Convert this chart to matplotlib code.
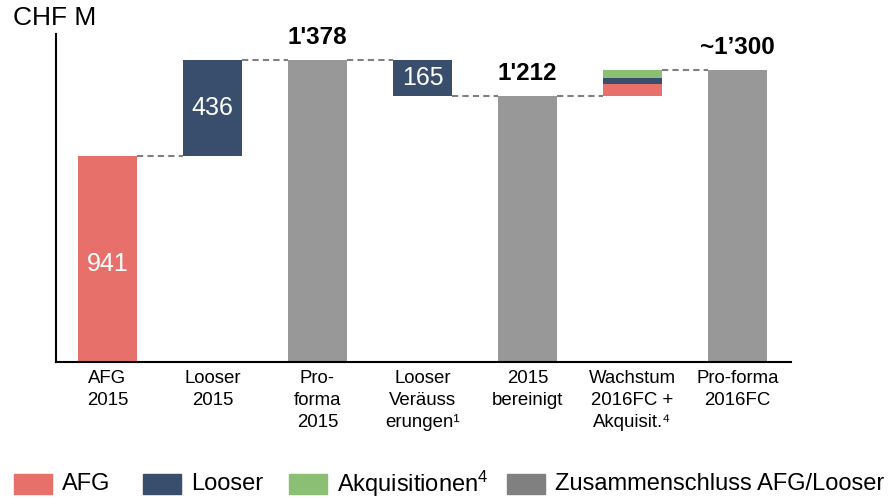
import matplotlib.pyplot as plt
from matplotlib.patches import Rectangle

plt.rcParams['font.family'] = ['Liberation Sans', 'DejaVu Sans']
plt.rcParams['mathtext.fontset'] = 'custom'
plt.rcParams['mathtext.rm'] = 'Liberation Sans'
plt.rcParams['mathtext.it'] = 'Liberation Sans'

categories = ["AFG\n2015", "Looser\n2015", "Pro-\nforma\n2015", "Looser\nVeräuss\nerungen¹",
              "2015\nbereinigt", "Wachstum\n2016FC +\nAkquisit.⁴", "Pro-forma\n2016FC"]
afg_2015 = 941
looser_2015 = 436
proforma_2015 = 1378
looser_veraeusserungen = 165
bereinigt_2015 = 1212
wachstum_afg = 55
wachstum_looser = 27
wachstum_akquisitionen = 36
proforma_2016 = 1330

labels_top = ["1'378", "1'212", "~1’300"]
legend_labels = ["AFG", "Looser", "Akquisitionen$^4$", "Zusammenschluss AFG/Looser"]

RED = '#E8706B'
NAVY = '#394E6D'
GREEN = '#8BBF73'
GRAY = '#989898'
GRAY_LEG = '#808080'

W, H = 894, 498
fig = plt.figure(figsize=(W / 100, H / 100), dpi=100)
ax = fig.add_axes([56 / W, 1 - 362 / H, (791 - 56) / W, (362 - 34) / H])

x = list(range(len(categories)))
w = 0.56

ax.bar(x[0], afg_2015, w, color=RED)
ax.bar(x[1], looser_2015, w, bottom=afg_2015, color=NAVY)
ax.bar(x[2], proforma_2015, w, color=GRAY)
ax.bar(x[3], looser_veraeusserungen, w, bottom=proforma_2015 - looser_veraeusserungen, color=NAVY)
ax.bar(x[4], bereinigt_2015, w, color=GRAY)
ax.bar(x[5], wachstum_afg, w, bottom=bereinigt_2015, color=RED)
ax.bar(x[5], wachstum_looser, w, bottom=bereinigt_2015 + wachstum_afg, color=NAVY)
ax.bar(x[5], wachstum_akquisitionen, w, bottom=bereinigt_2015 + wachstum_afg + wachstum_looser, color=GREEN)
ax.bar(x[6], proforma_2016, w, color=GRAY)

# Verbindungslinien
levels = [afg_2015, proforma_2015, proforma_2015, bereinigt_2015, bereinigt_2015, proforma_2016]
for i, lv in enumerate(levels):
    ax.plot([x[i] + w / 2, x[i + 1] - w / 2], [lv, lv], color='#808080', lw=1.5,
            dashes=(3, 2), solid_capstyle='butt')

# Werte in den Balken
ax.text(x[0], afg_2015 / 2 - 25, str(afg_2015), color='white', fontsize=18, ha='center', va='center')
ax.text(x[1], afg_2015 + looser_2015 / 2, str(looser_2015), color='white', fontsize=18, ha='center', va='center')
ax.text(x[3], proforma_2015 - looser_veraeusserungen / 2, str(looser_veraeusserungen), color='white',
        fontsize=18, ha='center', va='center')

# Summen oben
for xi, val, lab in zip([x[2], x[4], x[6]], [proforma_2015, bereinigt_2015, proforma_2016], labels_top):
    ax.annotate(lab, (xi, val), xytext=(0, 8), textcoords='offset points', ha='center', va='bottom',
                fontsize=17.5, fontweight='bold')

ax.set_xlim(-0.49, 6.51)
ax.set_ylim(0, 1496)
ax.set_xticks(x)
ax.set_xticklabels(categories, fontsize=13.4, linespacing=1.38, va='top')
ax.tick_params(axis='x', length=0, pad=6)
ax.set_yticks([])
for s in ['top', 'right']:
    ax.spines[s].set_visible(False)
for s in ['left', 'bottom']:
    ax.spines[s].set_linewidth(1.5)
    ax.spines[s].set_color('black')

fig.text(13 / W, 1 - 18 / H, "CHF M", fontsize=19, va='center', ha='left')

# Legende von Hand gesetzt (Abstaende wie im Original)
leg_x = [14, 143, 289, 507]
for px, c, lab in zip(leg_x, [RED, NAVY, GREEN, GRAY_LEG], legend_labels):
    fig.patches.append(Rectangle((px / W, 1 - 494 / H), 38 / W, 20 / H, color=c,
                                 transform=fig.transFigure, figure=fig))
    fig.text((px + 48) / W, 1 - 484 / H, lab, fontsize=17, va='center', ha='left')

fig.savefig('out.png', dpi=100)
